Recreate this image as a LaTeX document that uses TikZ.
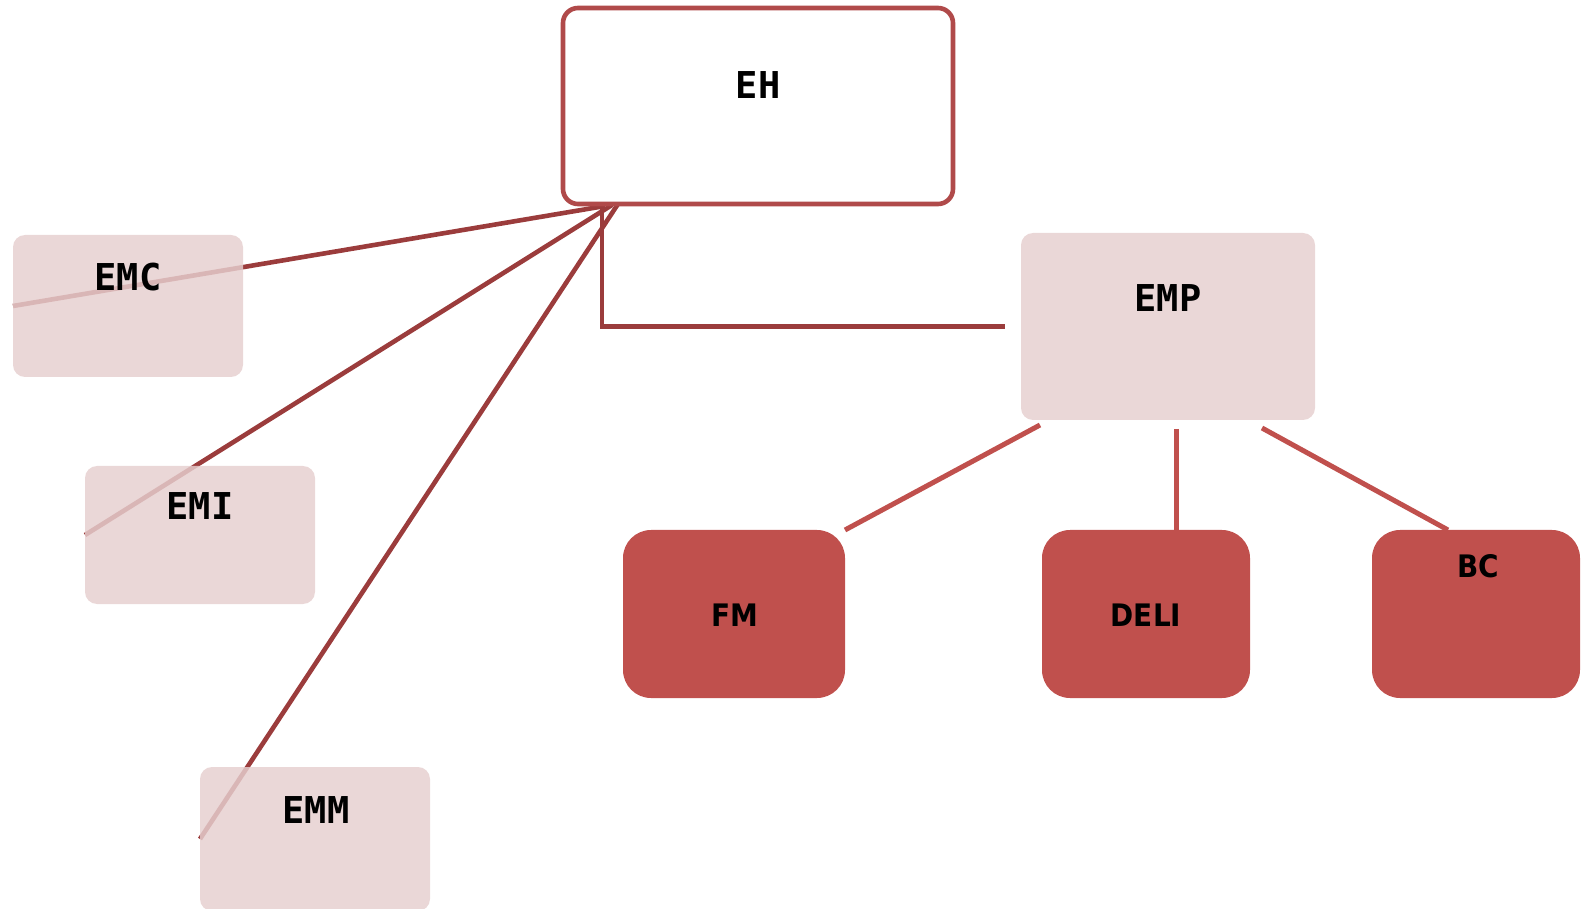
\documentclass[tikz,border=0pt]{standalone}
\usepackage{fontspec}
\usetikzlibrary{backgrounds,calc}
\newfontfamily\boxfont{DejaVu Sans Mono}
\newfontfamily\kidfont{DejaVu Sans Condensed}
\definecolor{hubred}{HTML}{9B3C3C}
\definecolor{edgered}{HTML}{B04A4A}
\definecolor{kidred}{HTML}{C0504D}
\definecolor{palepink}{HTML}{E6CFCF}
\tikzset{
  palebox/.style={rectangle, rounded corners=6pt, fill=palepink, fill opacity=0.83,
    inner sep=0pt, outer sep=0pt, minimum width=115pt},
  kidbox/.style={rectangle, rounded corners=14pt, fill=kidred,
    inner sep=0pt, outer sep=0pt, minimum width=104pt, minimum height=84pt},
  biglabel/.style={font=\boxfont\bfseries\fontsize{18.5}{20}\selectfont},
  kidlabel/.style={font=\kidfont\bfseries\fontsize{15.5}{17}\selectfont},
  hubline/.style={draw=hubred, line width=2.3pt},
  kidline/.style={draw=kidred, line width=2.5pt}
}
\begin{document}
\begin{tikzpicture}[x=0.5pt, y=-0.5pt]
  \useasboundingbox (0,0) rectangle (1587,909);

  % EH
  \node[rectangle, rounded corners=7.5pt, draw=edgered, line width=2.3pt, fill=white,
    inner sep=0pt, minimum width=195pt, minimum height=98pt] (eh) at (758,106) {};
  \node[biglabel] (ehtext) at (758,85) {EH};

  % left boxes
  \node[palebox, minimum height=71pt] (emc) at (128,306) {};
  \node[biglabel] (emctext) at (128,277) {EMC};
  \node[palebox, minimum height=69pt] (emi) at (200,535) {};
  \node[biglabel] (emitext) at (200,506) {EMI};
  \node[palebox, minimum height=72pt] (emm) at (315,839) {};
  \node[biglabel] (emmtext) at (316,810) {EMM};

  % EMP
  \node[palebox, minimum width=147pt, minimum height=93.5pt] (emp) at (1168,326.5) {};
  \node[biglabel] (emptext) at (1168,298) {EMP};

  % FM, DELI, BC
  \node[kidbox, minimum width=111pt] (fm) at (734,614) {};
  \node[kidlabel] (fmtext) at (735,615) {FM};
  \node[kidbox] (deli) at (1146,614) {};
  \node[kidlabel] (delitext) at (1146,615) {DELI};
  \node[kidbox] (bc) at (1476,614) {};
  \node[kidlabel] (bctext) at (1478,566) {BC};

  \coordinate (hub) at (612,205);
  \coordinate (elbowtop) at (602,208);

  \begin{scope}[on background layer]
    % into EH
    \draw[hubline] (emc.west) -- ($(hub)+(-7,1)$);
    \draw[hubline] (emi.west) -- (hub);
    \draw[hubline] (emm.west) -- ($(hub)+(6,-1)$);
    \draw[hubline] (elbowtop) |- ($(emp.west)+(-16,0)$);
    % out of EMP
    \draw[kidline] ($(emp.south west)+(19,5)$) -- (fm.north east);
    \draw[kidline] ($(emp.south)+(8,9)$) -- ($(deli.north)+(30,0)$);
    \draw[kidline] ($(emp.south east)+(-53,8)$) -- ($(bc.north)+(-28,0)$);
  \end{scope}

\end{tikzpicture}
\end{document}
